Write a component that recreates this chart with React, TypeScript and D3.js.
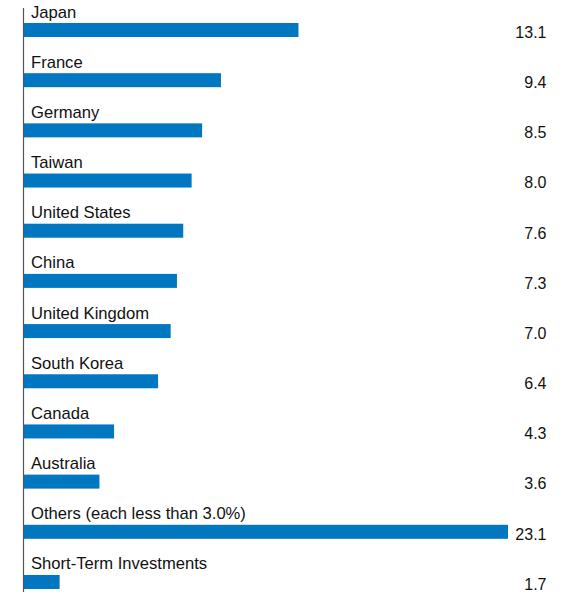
import React from "react";
import * as d3 from "d3";

const categories = [
  "Japan",
  "France",
  "Germany",
  "Taiwan",
  "United States",
  "China",
  "United Kingdom",
  "South Korea",
  "Canada",
  "Australia",
  "Others (each less than 3.0%)",
  "Short-Term Investments",
];
const values = [13.1, 9.4, 8.5, 8.0, 7.6, 7.3, 7.0, 6.4, 4.3, 3.6, 23.1, 1.7];

const W = 573;
const H = 598;
const x0 = 24;
const firstBarTop = 23;
const rowStep = 50.18;
const barH = 14;

export default function App() {
  const x = d3.scaleLinear().domain([0, 23.1]).range([x0, 508]);
  const y = d3
    .scaleLinear()
    .domain([0, categories.length - 1])
    .range([firstBarTop, firstBarTop + rowStep * (categories.length - 1)]);
  const font = "'Liberation Sans', Arial, sans-serif";
  return (
    <svg
      width={W}
      height={H}
      style={{ position: "absolute", left: 0, top: 0, background: "#fff" }}
    >
      {categories.map((c, i) => {
        const top = y(i);
        return (
          <g key={c}>
            <text x={31} y={top - 5.5} fontFamily={font} fontSize={16.6} fill="#111">
              {c}
            </text>
            <rect x={x0} y={top} width={x(values[i]) - x0} height={barH} fill="#0077C0" />
            <text
              x={546.5}
              y={top + 14.8}
              textAnchor="end"
              fontFamily={font}
              fontSize={16}
              fill="#111"
            >
              {values[i].toFixed(1)}
            </text>
          </g>
        );
      })}
      <line x1={23.5} x2={23.5} y1={8} y2={592} stroke="#555" strokeWidth={1.2} />
    </svg>
  );
}
